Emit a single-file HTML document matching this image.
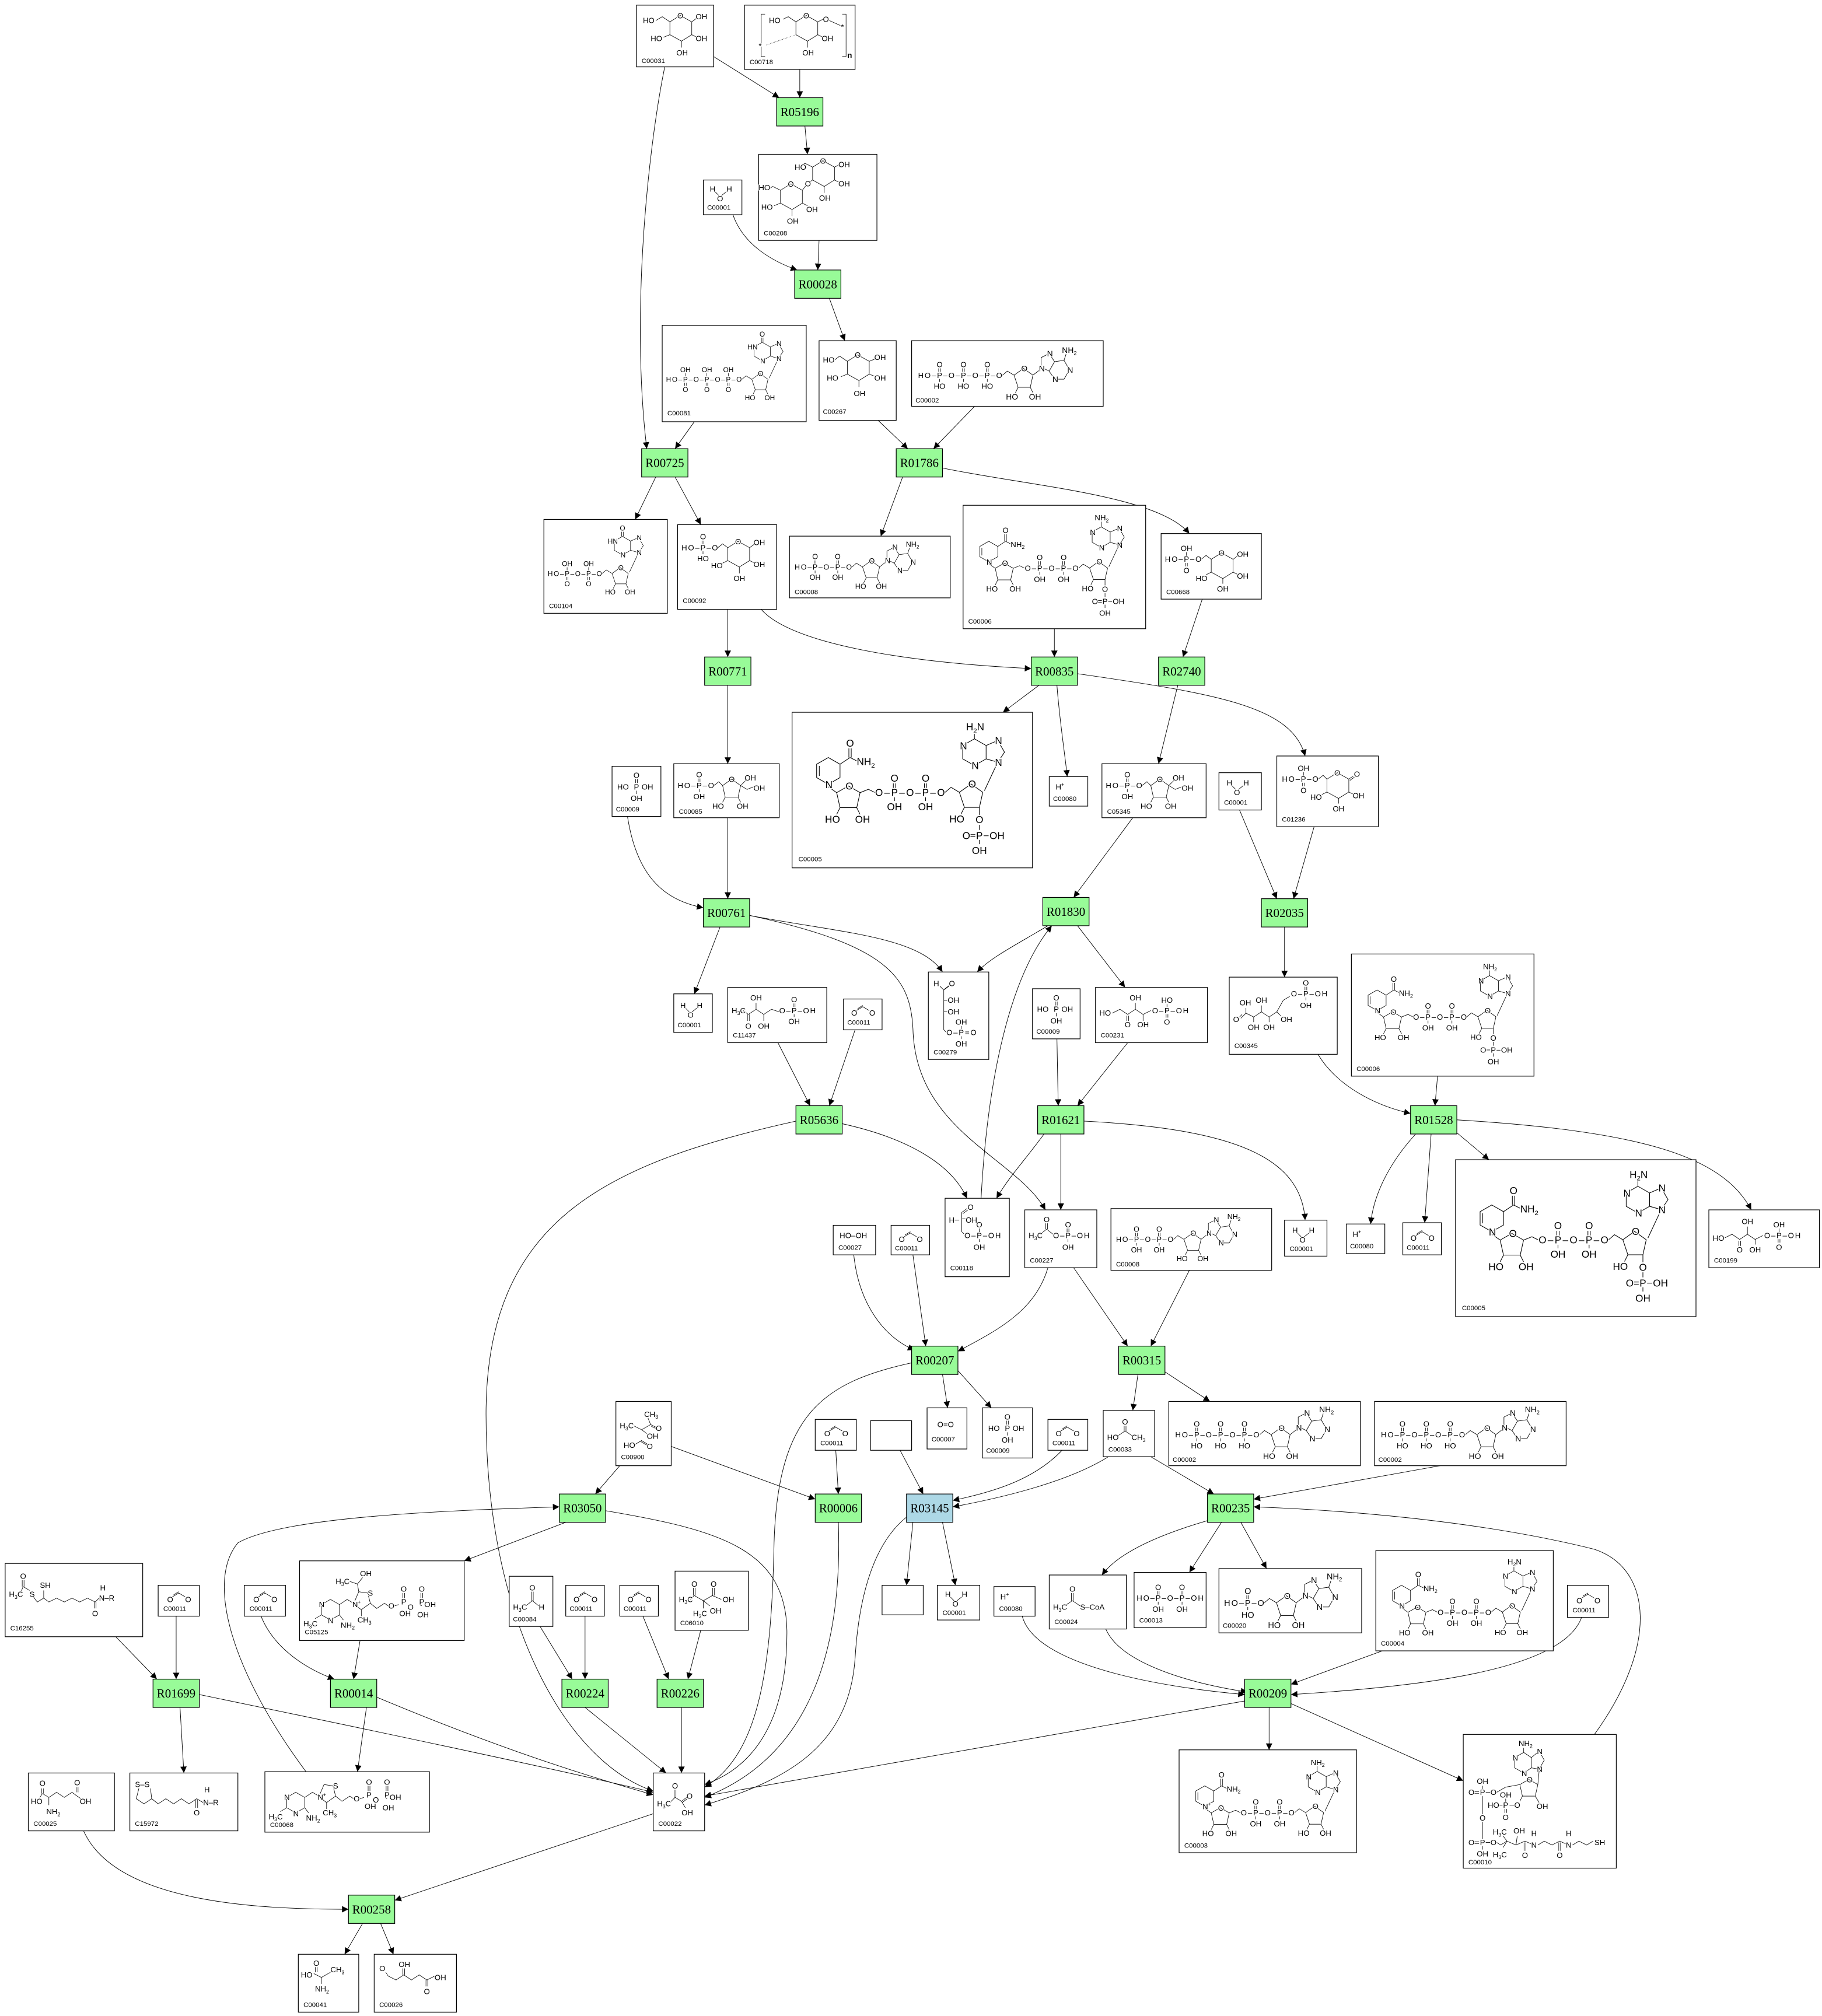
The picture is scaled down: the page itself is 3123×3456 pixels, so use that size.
<!DOCTYPE html>
<html><head><meta charset="utf-8"><title>Pathway</title>
<style>
html,body{margin:0;padding:0;background:#fff}
svg{display:block}
.bx{fill:#fff;stroke:#000;stroke-width:.55}
.rx{fill:#98fb98;stroke:#000;stroke-width:.55}
.rb{fill:#add8e6;stroke:#000;stroke-width:.55}
.e{fill:none;stroke:#000;stroke-width:.42}
.m{fill:none;stroke:#000;stroke-width:.38}
text{font-family:"Liberation Sans",sans-serif;font-size:6px;fill:#000;paint-order:stroke;stroke:#fff;stroke-width:1.1px;stroke-linejoin:round}
.id{font-size:5.2px}
.r{font-family:"Liberation Serif",serif;font-size:9.5px;text-anchor:middle;stroke:none}
.c{text-anchor:middle}
.ch{letter-spacing:.8px}
.s{font-size:4px}
</style></head><body>
<svg width="3123" height="3456" viewBox="0 0 1417 1568" preserveAspectRatio="none" xmlns="http://www.w3.org/2000/svg">
<defs><marker id="ah" viewBox="0 0 10 10" refX="10" refY="5" markerWidth="6" markerHeight="5" markerUnits="userSpaceOnUse" orient="auto"><path d="M0,0 L10,5 L0,10 z" fill="#000"/></marker></defs>
<rect width="1417" height="1568" fill="#fff"/>

<!-- EDGES -->
<g>
<path class="e" marker-end="url(#ah)" d="M555,44 L606,76"/>
<path class="e" marker-end="url(#ah)" d="M622,54 L622,76"/>
<path class="e" marker-end="url(#ah)" d="M517,52 C505,110 490,240 503,349"/>
<path class="e" marker-end="url(#ah)" d="M626,98 L628,120"/>
<path class="e" marker-end="url(#ah)" d="M637,187 L636,210"/>
<path class="e" marker-end="url(#ah)" d="M570,167 C578,190 600,203 620,210"/>
<path class="e" marker-end="url(#ah)" d="M645,232 L657,265"/>
<path class="e" marker-end="url(#ah)" d="M540,328 L525,349"/>
<path class="e" marker-end="url(#ah)" d="M683,327 L706,349"/>
<path class="e" marker-end="url(#ah)" d="M758,316 L726,349"/>
<path class="e" marker-end="url(#ah)" d="M510,371 L494,404"/>
<path class="e" marker-end="url(#ah)" d="M525,371 L545,408"/>
<path class="e" marker-end="url(#ah)" d="M702,371 L685,417"/>
<path class="e" marker-end="url(#ah)" d="M733,364 C800,378 900,385 925,415"/>
<path class="e" marker-end="url(#ah)" d="M566,474 L566,511"/>
<path class="e" marker-end="url(#ah)" d="M592,474 C615,500 700,515 802,520"/>
<path class="e" marker-end="url(#ah)" d="M820,489 L820,511"/>
<path class="e" marker-end="url(#ah)" d="M935,466 L920,511"/>
<path class="e" marker-end="url(#ah)" d="M808,533 L780,554"/>
<path class="e" marker-end="url(#ah)" d="M822,533 C824,560 828,585 830,604"/>
<path class="e" marker-end="url(#ah)" d="M838,524 C950,540 1005,550 1015,588"/>
<path class="e" marker-end="url(#ah)" d="M916,533 L901,594"/>
<path class="e" marker-end="url(#ah)" d="M566,533 L566,594"/>
<path class="e" marker-end="url(#ah)" d="M488,635 C495,680 515,700 547,706"/>
<path class="e" marker-end="url(#ah)" d="M566,636 L566,699"/>
<path class="e" marker-end="url(#ah)" d="M881,636 L835,698"/>
<path class="e" marker-end="url(#ah)" d="M964,630 L993,699"/>
<path class="e" marker-end="url(#ah)" d="M1022,643 L1006,699"/>
<path class="e" marker-end="url(#ah)" d="M560,721 L540,773"/>
<path class="e" marker-end="url(#ah)" d="M583,712 C650,725 715,728 733,756"/>
<path class="e" marker-end="url(#ah)" d="M583,712 C690,735 708,760 710,800 C712,880 790,900 813,941"/>
<path class="e" marker-end="url(#ah)" d="M815,720 C790,735 770,745 760,756"/>
<path class="e" marker-end="url(#ah)" d="M838,720 L875,768"/>
<path class="e" marker-end="url(#ah)" d="M999,721 L999,760"/>
<path class="e" marker-end="url(#ah)" d="M605,811 L630,860"/>
<path class="e" marker-end="url(#ah)" d="M665,801 L645,860"/>
<path class="e" marker-end="url(#ah)" d="M822,808 L823,860"/>
<path class="e" marker-end="url(#ah)" d="M877,811 L838,860"/>
<path class="e" marker-end="url(#ah)" d="M1025,820 C1040,845 1070,860 1097,866"/>
<path class="e" marker-end="url(#ah)" d="M1118,837 L1116,860"/>
<path class="e" marker-end="url(#ah)" d="M655,874 C705,885 740,905 752,932"/>
<path class="e" marker-end="url(#ah)" d="M619,872 C470,905 378,950 378,1100 C378,1260 440,1370 508,1393"/>
<path class="e" marker-end="url(#ah)" d="M763,932 C768,840 785,760 818,720"/>
<path class="e" marker-end="url(#ah)" d="M812,882 C795,905 785,915 775,932"/>
<path class="e" marker-end="url(#ah)" d="M825,882 L825,941"/>
<path class="e" marker-end="url(#ah)" d="M843,872 C960,878 1012,900 1015,949"/>
<path class="e" marker-end="url(#ah)" d="M1101,882 C1080,905 1068,930 1066,952"/>
<path class="e" marker-end="url(#ah)" d="M1113,882 L1108,951"/>
<path class="e" marker-end="url(#ah)" d="M1133,881 L1158,902"/>
<path class="e" marker-end="url(#ah)" d="M1133,871 C1280,880 1340,900 1362,941"/>
<path class="e" marker-end="url(#ah)" d="M664,976 C668,1015 688,1040 711,1050"/>
<path class="e" marker-end="url(#ah)" d="M710,976 L720,1047"/>
<path class="e" marker-end="url(#ah)" d="M815,986 C805,1020 775,1035 745,1051"/>
<path class="e" marker-end="url(#ah)" d="M835,986 L877,1047"/>
<path class="e" marker-end="url(#ah)" d="M925,988 L895,1047"/>
<path class="e" marker-end="url(#ah)" d="M709,1060 C640,1075 605,1100 602,1200 C600,1300 590,1365 548,1390"/>
<path class="e" marker-end="url(#ah)" d="M733,1069 L737,1095"/>
<path class="e" marker-end="url(#ah)" d="M745,1066 L771,1095"/>
<path class="e" marker-end="url(#ah)" d="M885,1069 L881,1097"/>
<path class="e" marker-end="url(#ah)" d="M906,1067 L941,1090"/>
<path class="e" marker-end="url(#ah)" d="M482,1140 L463,1162"/>
<path class="e" marker-end="url(#ah)" d="M522,1125 L634,1166"/>
<path class="e" marker-end="url(#ah)" d="M650,1128 L652,1162"/>
<path class="e" marker-end="url(#ah)" d="M700,1128 L718,1162"/>
<path class="e" marker-end="url(#ah)" d="M826,1128 C805,1150 775,1160 741,1167"/>
<path class="e" marker-end="url(#ah)" d="M862,1133 C835,1150 790,1163 741,1172"/>
<path class="e" marker-end="url(#ah)" d="M895,1133 L944,1162"/>
<path class="e" marker-end="url(#ah)" d="M1120,1140 L975,1166"/>
<path class="e" marker-end="url(#ah)" d="M440,1184 L361,1214"/>
<path class="e" marker-end="url(#ah)" d="M471,1175 C560,1190 612,1205 612,1270 C612,1340 585,1375 548,1388"/>
<path class="e" marker-end="url(#ah)" d="M652,1184 C656,1300 620,1370 548,1398"/>
<path class="e" marker-end="url(#ah)" d="M705,1180 C680,1200 668,1240 665,1290 C660,1360 610,1385 548,1404"/>
<path class="e" marker-end="url(#ah)" d="M710,1184 L705,1233"/>
<path class="e" marker-end="url(#ah)" d="M733,1184 L743,1233"/>
<path class="e" marker-end="url(#ah)" d="M945,1181 C895,1195 868,1210 857,1225"/>
<path class="e" marker-end="url(#ah)" d="M950,1184 L925,1223"/>
<path class="e" marker-end="url(#ah)" d="M965,1184 L985,1220"/>
<path class="e" marker-end="url(#ah)" d="M1240,1349 C1290,1280 1285,1220 1240,1205 C1160,1185 1060,1175 975,1172"/>
<path class="e" marker-end="url(#ah)" d="M90,1273 L122,1306"/>
<path class="e" marker-end="url(#ah)" d="M137,1257 L137,1306"/>
<path class="e" marker-end="url(#ah)" d="M203,1257 C213,1282 238,1298 260,1306"/>
<path class="e" marker-end="url(#ah)" d="M280,1276 L275,1306"/>
<path class="e" marker-end="url(#ah)" d="M420,1265 L445,1306"/>
<path class="e" marker-end="url(#ah)" d="M455,1257 L455,1306"/>
<path class="e" marker-end="url(#ah)" d="M500,1257 L520,1306"/>
<path class="e" marker-end="url(#ah)" d="M545,1268 L535,1306"/>
<path class="e" marker-end="url(#ah)" d="M795,1257 C805,1295 900,1312 968,1318"/>
<path class="e" marker-end="url(#ah)" d="M860,1267 C872,1295 930,1310 970,1316"/>
<path class="e" marker-end="url(#ah)" d="M1075,1284 L1004,1310"/>
<path class="e" marker-end="url(#ah)" d="M1230,1258 C1215,1300 1100,1312 1004,1318"/>
<path class="e" marker-end="url(#ah)" d="M140,1328 L143,1379"/>
<path class="e" marker-end="url(#ah)" d="M155,1318 C310,1350 450,1380 508,1394"/>
<path class="e" marker-end="url(#ah)" d="M285,1328 L278,1378"/>
<path class="e" marker-end="url(#ah)" d="M293,1320 C400,1365 470,1385 508,1396"/>
<path class="e" marker-end="url(#ah)" d="M238,1378 C180,1300 160,1230 185,1200 C220,1180 340,1175 435,1172"/>
<path class="e" marker-end="url(#ah)" d="M455,1328 L518,1379"/>
<path class="e" marker-end="url(#ah)" d="M530,1328 L530,1379"/>
<path class="e" marker-end="url(#ah)" d="M968,1323 L548,1397"/>
<path class="e" marker-end="url(#ah)" d="M987,1328 L987,1361"/>
<path class="e" marker-end="url(#ah)" d="M1004,1325 L1138,1385"/>
<path class="e" marker-end="url(#ah)" d="M510,1410 L307,1478"/>
<path class="e" marker-end="url(#ah)" d="M65,1424 C90,1480 200,1485 271,1485"/>
<path class="e" marker-end="url(#ah)" d="M282,1496 L268,1520"/>
<path class="e" marker-end="url(#ah)" d="M296,1496 L306,1520"/>
</g>

<!-- REACTIONS -->
<g>
<rect class="rx" x="604" y="76" width="36" height="22"/><text class="r" x="622" y="90.3">R05196</text>
<rect class="rx" x="618" y="210" width="36" height="22"/><text class="r" x="636" y="224.3">R00028</text>
<rect class="rx" x="499" y="349" width="36" height="22"/><text class="r" x="517" y="363.3">R00725</text>
<rect class="rx" x="697" y="349" width="36" height="22"/><text class="r" x="715" y="363.3">R01786</text>
<rect class="rx" x="548" y="511" width="36" height="22"/><text class="r" x="566" y="525.3">R00771</text>
<rect class="rx" x="802" y="511" width="36" height="22"/><text class="r" x="820" y="525.3">R00835</text>
<rect class="rx" x="901" y="511" width="36" height="22"/><text class="r" x="919" y="525.3">R02740</text>
<rect class="rx" x="547" y="699" width="36" height="22"/><text class="r" x="565" y="713.3">R00761</text>
<rect class="rx" x="811" y="698" width="36" height="22"/><text class="r" x="829" y="712.3">R01830</text>
<rect class="rx" x="981" y="699" width="36" height="22"/><text class="r" x="999" y="713.3">R02035</text>
<rect class="rx" x="619" y="860" width="36" height="22"/><text class="r" x="637" y="874.3">R05636</text>
<rect class="rx" x="807" y="860" width="36" height="22"/><text class="r" x="825" y="874.3">R01621</text>
<rect class="rx" x="1097" y="860" width="36" height="22"/><text class="r" x="1115" y="874.3">R01528</text>
<rect class="rx" x="709" y="1047" width="36" height="22"/><text class="r" x="727" y="1061.3">R00207</text>
<rect class="rx" x="870" y="1047" width="36" height="22"/><text class="r" x="888" y="1061.3">R00315</text>
<rect class="rx" x="435" y="1162" width="36" height="22"/><text class="r" x="453" y="1176.3">R03050</text>
<rect class="rx" x="634" y="1162" width="36" height="22"/><text class="r" x="652" y="1176.3">R00006</text>
<rect class="rb" x="705" y="1162" width="36" height="22"/><text class="r" x="723" y="1176.3">R03145</text>
<rect class="rx" x="939" y="1162" width="36" height="22"/><text class="r" x="957" y="1176.3">R00235</text>
<rect class="rx" x="119" y="1306" width="36" height="22"/><text class="r" x="137" y="1320.3">R01699</text>
<rect class="rx" x="257" y="1306" width="36" height="22"/><text class="r" x="275" y="1320.3">R00014</text>
<rect class="rx" x="437" y="1306" width="36" height="22"/><text class="r" x="455" y="1320.3">R00224</text>
<rect class="rx" x="511" y="1306" width="36" height="22"/><text class="r" x="529" y="1320.3">R00226</text>
<rect class="rx" x="968" y="1306" width="36" height="22"/><text class="r" x="986" y="1320.3">R00209</text>
<rect class="rx" x="271" y="1474" width="36" height="22"/><text class="r" x="289" y="1488.3">R00258</text>
</g>

<!-- COMPOUNDS -->
<!-- C00031 -->
<g transform="translate(495,4)"><rect class="bx" width="60" height="48"/>
<path class="m" d="M26,13 L34,8 L43,13 L43,23 L35,28 L26,23 Z M26,13 L20,9 L15,12 M43,13 L47,10 M43,23 L47,25 M26,23 L21,25 M35,28 V33"/>
<text x="31.7" y="10.2">O</text><text x="5" y="14">HO</text><text x="46" y="11">OH</text><text x="46" y="28">OH</text><text x="11" y="28">HO</text><text x="31" y="39">OH</text>
<text class="id" x="4" y="45">C00031</text></g>

<!-- C00718 -->
<g transform="translate(579,4)"><rect class="bx" width="86" height="50"/>
<path class="m" d="M16,7 H13 V40 H16 M76,7 H79 V40 H76 M40,13 L48,8 L57,13 L57,23 L49,28 L40,23 Z M40,13 L34,9 L30,11 M57,13 L61,11 M66,12 L75,16 M57,23 L61,25 M49,28 V33"/>
<path class="m" stroke-dasharray="0.4 0.7" stroke-width="1.4" d="M17,31 L40,23"/>
<text x="45.7" y="10.2">O</text><text x="19" y="14">HO</text><text x="61" y="13">O</text><text x="75" y="19">*</text><text x="11" y="34">*</text><text x="60" y="28">OH</text><text x="45" y="39">OH</text><text x="80" y="41" font-weight="bold">n</text>
<text class="id" x="4" y="46">C00718</text></g>

<!-- C00208 -->
<g transform="translate(590,120)"><rect class="bx" width="92" height="67"/>
<path class="m" d="M42,10 L50,5 L59,10 L59,20 L51,25 L42,20 Z M42,10 L36,7 L33,9 M59,10 L63,8 M59,20 L63,22 M51,25 V30 M42,20 L39,22 M17,28 L25,23 L34,28 L34,38 L26,43 L17,38 Z M34,28 L37,24 M17,28 L11,25 L8,27 M17,38 L12,40 M26,43 V48 M34,38 L38,40"/>
<text x="47.7" y="7.2">O</text><text x="28" y="12">HO</text><text x="62" y="10">OH</text><text x="62" y="25">OH</text><text x="47" y="36">OH</text><text x="36" y="25">O</text>
<text x="22.7" y="25.2">O</text><text x="0" y="28">HO</text><text x="2" y="43">HO</text><text x="22" y="54">OH</text><text x="37" y="45">OH</text>
<text class="id" x="4" y="63">C00208</text></g>

<!-- C00001 waters -->
<g transform="translate(547,140)"><rect class="bx" width="30" height="27"/><path class="m" d="M9,9 L13,13 L18,9"/><text x="5" y="9">H</text><text x="10.7" y="16.5">O</text><text x="18" y="9">H</text><text class="id" x="3" y="23">C00001</text></g>
<g transform="translate(948,601)"><rect class="bx" width="33" height="29"/><path class="m" d="M10,10 L14,14 L19,10"/><text x="6" y="10">H</text><text x="11.7" y="17.5">O</text><text x="19" y="10">H</text><text class="id" x="4" y="25">C00001</text></g>
<g transform="translate(524,773)"><rect class="bx" width="30" height="30"/><path class="m" d="M9,11 L13,15 L18,11"/><text x="5" y="11">H</text><text x="10.7" y="18.5">O</text><text x="18" y="11">H</text><text class="id" x="3" y="26">C00001</text></g>
<g transform="translate(999,949)"><rect class="bx" width="33" height="28"/><path class="m" d="M10,10 L14,14 L19,10"/><text x="6" y="10">H</text><text x="11.7" y="17.5">O</text><text x="19" y="10">H</text><text class="id" x="4" y="24">C00001</text></g>
<g transform="translate(729,1233)"><rect class="bx" width="33" height="27"/><path class="m" d="M10,9 L14,13 L19,9"/><text x="6" y="9">H</text><text x="11.7" y="16.5">O</text><text x="19" y="9">H</text><text class="id" x="4" y="23">C00001</text></g>

<!-- C00011 CO2 -->
<g transform="translate(656,777)"><rect class="bx" width="30" height="24"/><path class="m" d="M10,9 L15,6 L20,9 M11,7.5 L15,5"/><text x="6" y="13">O</text><text x="20" y="13">O</text><text class="id" x="3" y="20">C00011</text></g>
<g transform="translate(693,953)"><rect class="bx" width="30" height="23"/><path class="m" d="M10,9 L15,6 L20,9 M11,7.5 L15,5"/><text x="6" y="13">O</text><text x="20" y="13">O</text><text class="id" x="3" y="19.5">C00011</text></g>
<g transform="translate(634,1104)"><rect class="bx" width="32" height="24"/><path class="m" d="M11,9 L16,6 L21,9 M12,7.5 L16,5"/><text x="7" y="13">O</text><text x="21" y="13">O</text><text class="id" x="4" y="20">C00011</text></g>
<g transform="translate(815,1104)"><rect class="bx" width="31" height="24"/><path class="m" d="M10,9 L15,6 L20,9 M11,7.5 L15,5"/><text x="6" y="13">O</text><text x="20" y="13">O</text><text class="id" x="3.5" y="20">C00011</text></g>
<g transform="translate(123,1233)"><rect class="bx" width="32" height="24"/><path class="m" d="M11,9 L16,6 L21,9 M12,7.5 L16,5"/><text x="7" y="13">O</text><text x="21" y="13">O</text><text class="id" x="4" y="20">C00011</text></g>
<g transform="translate(190,1233)"><rect class="bx" width="32" height="24"/><path class="m" d="M11,9 L16,6 L21,9 M12,7.5 L16,5"/><text x="7" y="13">O</text><text x="21" y="13">O</text><text class="id" x="4" y="20">C00011</text></g>
<g transform="translate(440,1233)"><rect class="bx" width="30" height="24"/><path class="m" d="M10,9 L15,6 L20,9 M11,7.5 L15,5"/><text x="6" y="13">O</text><text x="20" y="13">O</text><text class="id" x="3" y="20">C00011</text></g>
<g transform="translate(482,1233)"><rect class="bx" width="30" height="24"/><path class="m" d="M10,9 L15,6 L20,9 M11,7.5 L15,5"/><text x="6" y="13">O</text><text x="20" y="13">O</text><text class="id" x="3" y="20">C00011</text></g>
<g transform="translate(1091,951)"><rect class="bx" width="30" height="25"/><path class="m" d="M10,10 L15,7 L20,10 M11,8.5 L15,6"/><text x="6" y="14">O</text><text x="20" y="14">O</text><text class="id" x="3" y="21">C00011</text></g>
<g transform="translate(1219,1233)"><rect class="bx" width="32" height="25"/><path class="m" d="M11,10 L16,7 L21,10 M12,8.5 L16,6"/><text x="7" y="14">O</text><text x="21" y="14">O</text><text class="id" x="4" y="21">C00011</text></g>

<!-- C00080 H+ -->
<g transform="translate(816,604)"><rect class="bx" width="30" height="23"/><text x="5" y="10">H<tspan class="s" dy="-2.5">+</tspan></text><text class="id" x="3" y="19">C00080</text></g>
<g transform="translate(1047,952)"><rect class="bx" width="30" height="23"/><text x="5" y="10">H<tspan class="s" dy="-2.5">+</tspan></text><text class="id" x="3" y="19">C00080</text></g>
<g transform="translate(773,1234)"><rect class="bx" width="32" height="23"/><text x="5" y="10">H<tspan class="s" dy="-2.5">+</tspan></text><text class="id" x="4" y="19">C00080</text></g>

<!-- C00009 phosphate -->
<g transform="translate(476,596)"><rect class="bx" width="38" height="39"/><path class="m" d="M18.3,10 V13 M19.7,10 V13 M19,19 V21.5"/><text class="c" x="19" y="9">O</text><text class="c" x="19" y="18">P</text><text x="4" y="18">HO</text><text x="23" y="18">OH</text><text class="c" x="19" y="27">OH</text><text class="id" x="3" y="35">C00009</text></g>
<g transform="translate(803,769)"><rect class="bx" width="37" height="39"/><path class="m" d="M17.8,10 V13 M19.2,10 V13 M18.5,19 V21.5"/><text class="c" x="18.5" y="9">O</text><text class="c" x="18.5" y="18">P</text><text x="3.5" y="18">HO</text><text x="22.5" y="18">OH</text><text class="c" x="18.5" y="27">OH</text><text class="id" x="3" y="35">C00009</text></g>
<g transform="translate(764,1095)"><rect class="bx" width="39" height="39"/><path class="m" d="M18.8,10 V13 M20.2,10 V13 M19.5,19 V21.5"/><text class="c" x="19.5" y="9">O</text><text class="c" x="19.5" y="18">P</text><text x="4.5" y="18">HO</text><text x="23.5" y="18">OH</text><text class="c" x="19.5" y="27">OH</text><text class="id" x="3" y="35">C00009</text></g>

<!-- C00007 -->
<g transform="translate(721,1095)"><rect class="bx" width="31" height="32"/><text x="8" y="15">O=O</text><text class="id" x="3.5" y="26">C00007</text></g>
<!-- C00027 -->
<g transform="translate(648,953)"><rect class="bx" width="33" height="23"/><text x="5" y="10">HO–OH</text><text class="id" x="4" y="19">C00027</text></g>
<!-- empty boxes -->
<rect class="bx" x="677" y="1105" width="32" height="23"/>
<rect class="bx" x="686" y="1233" width="32" height="23"/>

<!-- C00081 ITP -->
<g transform="translate(515,253)"><rect class="bx" width="112" height="75"/>
<g transform="translate(3,44) scale(0.9)">
<text class="ch" x="0" y="0">HO–P–O–P–O–P–O</text>
<path class="m" d="M16.74,-4.8 V-7.5 M35.3,-4.8 V-7.5 M53.84,-4.8 V-7.5 M16.04,0.8 V3.4 M17.44,0.8 V3.4 M34.6,0.8 V3.4 M36,0.8 V3.4 M53.14,0.8 V3.4 M54.54,0.8 V3.4"/>
<text class="c" x="16.74" y="-8.5">OH</text><text class="c" x="35.3" y="-8.5">OH</text><text class="c" x="53.84" y="-8.5">OH</text>
<text class="c" x="16.74" y="8.8">O</text><text class="c" x="35.3" y="8.8">O</text><text class="c" x="53.84" y="8.8">O</text>
<g transform="translate(63.1,-2.2)"><path class="m" d="M2.5,0 L6,-3 L11,0 M11,0 L18,-5 L25,0 L23,9 L14,9 Z M14,9 L12,13 M23,9 L25,13 M26,-1 L33,-16 M20,-32 L13,-28 L13,-20 L20,-16 L27,-20 L27,-28 Z M27,-28 L34,-31 L38,-24 L34,-18 L27,-20 M19.3,-32 V-36 M20.7,-32 V-36"/><text x="16.3" y="-2.8">O</text><text x="7.3" y="-25.8">HN</text><text x="18.3" y="-13.8">N</text><text x="32.3" y="-28.8">N</text><text x="32.3" y="-15.8">N</text><text x="17.7" y="-37">O</text><text x="5" y="18">HO</text><text x="22" y="18">OH</text></g>
</g>
<text class="id" x="4" y="70">C00081</text></g>

<!-- C00267 -->
<g transform="translate(637,265)"><rect class="bx" width="60" height="62"/>
<path class="m" d="M22,16 L30,11 L39,16 L39,26 L31,31 L22,26 Z M22,16 L16,12 L12,15 M39,16 L44,14 M39,26 L44,28 M22,26 L17,28 M31,31 V36"/>
<text x="27.7" y="13.2">O</text><text x="3" y="17">HO</text><text x="43" y="15">OH</text><text x="43" y="31">OH</text><text x="6" y="31">HO</text><text x="27" y="43">OH</text>
<text class="id" x="3" y="57">C00267</text></g>

<!-- ATP C00002 top -->
<g transform="translate(709,265)"><rect class="bx" width="149" height="51"/>
<g transform="translate(5,29)">
<text class="ch" x="0" y="0">HO–P–O–P–O–P–O</text>
<path class="m" d="M16.04,-4.8 V-7.5 M17.44,-4.8 V-7.5 M34.6,-4.8 V-7.5 M36,-4.8 V-7.5 M53.14,-4.8 V-7.5 M54.54,-4.8 V-7.5 M16.74,0.8 V3 M35.3,0.8 V3 M53.84,0.8 V3"/>
<text class="c" x="16.74" y="-8.5">O</text><text class="c" x="35.3" y="-8.5">O</text><text class="c" x="53.84" y="-8.5">O</text>
<text class="c" x="16.74" y="8.5">HO</text><text class="c" x="35.3" y="8.5">HO</text><text class="c" x="53.84" y="8.5">HO</text>
<g transform="translate(63.1,-2.2) scale(1.05)"><path class="m" d="M2.5,0 L6,-3 L11,0 M11,0 L18,-5 L25,0 L23,9 L14,9 Z M14,9 L12,13 M23,9 L25,13 M25,0 L29.5,-3.5 M31,-6 L31,-13 L37,-16 L41,-10 L37,-3 Z M41,-10 L48,-11 L52,-4 L48,3 L41,3 L37,-3 M48,-11 L49.5,-15.5"/><text x="16.3" y="-2.8">O</text><text x="29.4" y="-2.9">N</text><text x="35.4" y="-13.9">N</text><text x="39.4" y="5.1">N</text><text x="50.4" y="-1.9">N</text><text x="46.5" y="-16.5">NH<tspan class="s" dy="1.5">2</tspan></text><text x="5" y="18">HO</text><text x="22" y="18">OH</text></g>
</g>
<text class="id" x="3" y="48">C00002</text></g>

<!-- C00104 IDP -->
<g transform="translate(423,404)"><rect class="bx" width="96" height="73"/>
<g transform="translate(3,44) scale(0.9)">
<text class="ch" x="0" y="0">HO–P–O–P–O</text>
<path class="m" d="M16.74,-4.8 V-7.5 M35.3,-4.8 V-7.5 M16.04,0.8 V3.4 M17.44,0.8 V3.4 M34.6,0.8 V3.4 M36,0.8 V3.4"/>
<text class="c" x="16.74" y="-8.5">OH</text><text class="c" x="35.3" y="-8.5">OH</text><text class="c" x="16.74" y="8.8">O</text><text class="c" x="35.3" y="8.8">O</text>
<g transform="translate(44.56,-2.2)"><path class="m" d="M2.5,0 L6,-3 L11,0 M11,0 L18,-5 L25,0 L23,9 L14,9 Z M14,9 L12,13 M23,9 L25,13 M26,-1 L33,-16 M20,-32 L13,-28 L13,-20 L20,-16 L27,-20 L27,-28 Z M27,-28 L34,-31 L38,-24 L34,-18 L27,-20 M19.3,-32 V-36 M20.7,-32 V-36"/><text x="16.3" y="-2.8">O</text><text x="7.3" y="-25.8">HN</text><text x="18.3" y="-13.8">N</text><text x="32.3" y="-28.8">N</text><text x="32.3" y="-15.8">N</text><text x="17.7" y="-37">O</text><text x="5" y="18">HO</text><text x="22" y="18">OH</text></g>
</g>
<text class="id" x="4" y="69">C00104</text></g>

<!-- C00092 -->
<g transform="translate(527,408)"><rect class="bx" width="77" height="66"/>
<text class="ch" x="3" y="20">HO–P–O</text>
<path class="m" d="M19,15.2 V12.5 M20.4,15.2 V12.5 M19.74,20.8 V23 M31.5,17.8 L35,15 L39,18 M39,18 L47,13 L56,18 L56,28 L48,33 L39,28 Z M56,18 L60,15 M56,28 L60,30 M39,28 L35,30 M48,33 V38"/>
<text class="c" x="19.74" y="11.5">O</text><text class="c" x="19.74" y="28.5">HO</text><text x="44.7" y="15.2">O</text><text x="59" y="16">OH</text><text x="59" y="33">OH</text><text x="26" y="34">HO</text><text class="c" x="48" y="44">OH</text>
<text class="id" x="4" y="61">C00092</text></g>

<!-- C00008 ADP (upper) -->
<g transform="translate(614,417)"><rect class="bx" width="125" height="48"/>
<g transform="translate(4,26) scale(0.95)">
<text class="ch" x="0" y="0">HO–P–O–P–O</text>
<path class="m" d="M16.04,-4.8 V-7.5 M17.44,-4.8 V-7.5 M34.6,-4.8 V-7.5 M36,-4.8 V-7.5 M16.74,0.8 V3 M35.3,0.8 V3"/>
<text class="c" x="16.74" y="-8.5">O</text><text class="c" x="35.3" y="-8.5">O</text><text class="c" x="16.74" y="8.5">OH</text><text class="c" x="35.3" y="8.5">OH</text>
<g transform="translate(44.56,-2.2)"><path class="m" d="M2.5,0 L6,-3 L11,0 M11,0 L18,-5 L25,0 L23,9 L14,9 Z M14,9 L12,13 M23,9 L25,13 M25,0 L29.5,-3.5 M31,-6 L31,-13 L37,-16 L41,-10 L37,-3 Z M41,-10 L48,-11 L52,-4 L48,3 L41,3 L37,-3 M48,-11 L49.5,-15.5"/><text x="16.3" y="-2.8">O</text><text x="29.4" y="-2.9">N</text><text x="35.4" y="-13.9">N</text><text x="39.4" y="5.1">N</text><text x="50.4" y="-1.9">N</text><text x="46.5" y="-16.5">NH<tspan class="s" dy="1.5">2</tspan></text><text x="5" y="18">HO</text><text x="22" y="18">OH</text></g>
</g>
<text class="id" x="4" y="45">C00008</text></g>

<!-- C00006 NADP (upper) -->
<g transform="translate(749,393)"><rect class="bx" width="142" height="96"/>
<g transform="translate(6,4)">
<path class="m" d="M14,24 L21,28 L21,36 L14,40 L7,36 L7,28 Z M8.6,29 V35 M21,28 L27,24 M26.3,24 V18.5 M27.7,24 V18.5 M27,24 L31,26 M14,41.5 L19,45 M19,45 L26,41 L33,45 L31,54 L21,54 Z M21,54 L19,58 M31,54 L33,58 M33,45 L38,43 L42,45 M52.9,42.2 V39.5 M54.3,42.2 V39.5 M53.6,47.8 V50 M71.5,42.2 V39.5 M72.9,42.2 V39.5 M72.2,47.8 V50"/>
<text class="c" x="27" y="17.5">O</text><text x="31" y="28.5">NH<tspan class="s" dy="1.5">2</tspan></text><text x="12.2" y="42.2">N</text><text x="24.3" y="43.2">O</text><text x="12" y="63">HO</text><text x="30" y="63">OH</text>
<text class="ch" x="42" y="47">O–P–O–P–O</text>
<text class="c" x="53.6" y="38.5">O</text><text class="c" x="53.6" y="55.5">OH</text><text class="c" x="72.2" y="38.5">O</text><text class="c" x="72.2" y="55.5">OH</text>
<g transform="translate(81.4,44.8)"><path class="m" d="M2.5,0 L6,-3 L11,0 M11,0 L18,-5 L25,0 L23,9 L14,9 Z M14,9 L12,13 M26,-1 L33,-16 M20,-32 L13,-28 L13,-20 L20,-16 L27,-20 L27,-28 Z M27,-28 L34,-31 L38,-24 L34,-18 L27,-20 M20,-32 V-36 M23,9 V13.5 M23,19.5 V22.5 M17.5,25.3 H20.5 M17.5,26.6 H20.5 M25.5,26 H28.5 M23,28.5 V31"/><text x="16.3" y="-2.8">O</text><text x="11.3" y="-25.8">N</text><text x="18.3" y="-13.8">N</text><text x="32.3" y="-28.8">N</text><text x="32.3" y="-15.8">N</text><text x="15" y="-37">NH<tspan class="s" dy="1.5">2</tspan></text><text x="5" y="18">HO</text><text class="c" x="23" y="18.5">O</text><text class="c" x="23" y="28">P</text><text x="12.8" y="28">O</text><text x="29" y="28">OH</text><text class="c" x="23" y="37">OH</text></g>
</g>
<text class="id" x="4" y="92">C00006</text></g>

<!-- C00668 -->
<g transform="translate(903,415)"><rect class="bx" width="78" height="51"/>
<text class="ch" x="3" y="22">HO–P–O</text>
<path class="m" d="M19.74,17.2 V14.5 M19,22.8 V25.5 M20.4,22.8 V25.5 M31.5,19.8 L35,17 L39,20 M39,20 L47,15 L56,20 L56,30 L48,35 L39,30 Z M56,20 L60,17 M56,30 L60,32 M39,30 L35,32 M48,35 V39"/>
<text class="c" x="19.74" y="13.5">OH</text><text class="c" x="19.74" y="30.8">O</text><text x="44.7" y="17.2">O</text><text x="59" y="18">OH</text><text x="59" y="35">OH</text><text x="27" y="37">HO</text><text class="c" x="48" y="45">OH</text>
<text class="id" x="4" y="47">C00668</text></g>

<!-- C00005 NADPH (upper) -->
<g transform="translate(616,554)"><rect class="bx" width="187" height="121"/>
<g transform="translate(10,4) scale(1.3)">
<path class="m" d="M14,24 L21,28 L21,36 L14,40 L7,36 L7,28 Z M8.6,29 V35 M21,28 L27,24 M26.3,24 V18.5 M27.7,24 V18.5 M27,24 L31,26 M14,41.5 L19,45 M19,45 L26,41 L33,45 L31,54 L21,54 Z M21,54 L19,58 M31,54 L33,58 M33,45 L38,43 L42,45 M52.9,42.2 V39.5 M54.3,42.2 V39.5 M53.6,47.8 V50 M71.5,42.2 V39.5 M72.9,42.2 V39.5 M72.2,47.8 V50"/>
<text class="c" x="27" y="17.5">O</text><text x="31" y="28.5">NH<tspan class="s" dy="1.5">2</tspan></text><text x="12.2" y="42.2">N</text><text x="24.3" y="43.2">O</text><text x="12" y="63">HO</text><text x="30" y="63">OH</text>
<text class="ch" x="42" y="47">O–P–O–P–O</text>
<text class="c" x="53.6" y="38.5">O</text><text class="c" x="53.6" y="55.5">OH</text><text class="c" x="72.2" y="38.5">O</text><text class="c" x="72.2" y="55.5">OH</text>
<g transform="translate(81.4,44.8)"><path class="m" d="M2.5,0 L6,-3 L11,0 M11,0 L18,-5 L25,0 L23,9 L14,9 Z M14,9 L12,13 M26,-1 L33,-16 M20,-32 L13,-28 L13,-20 L20,-16 L27,-20 L27,-28 Z M27,-28 L34,-31 L38,-24 L34,-18 L27,-20 M20,-32 V-36 M23,9 V13.5 M23,19.5 V22.5 M17.5,25.3 H20.5 M17.5,26.6 H20.5 M25.5,26 H28.5 M23,28.5 V31"/><text x="16.3" y="-2.8">O</text><text x="11.3" y="-25.8">N</text><text x="18.3" y="-13.8">N</text><text x="32.3" y="-28.8">N</text><text x="32.3" y="-15.8">N</text><text x="15" y="-37">H<tspan class="s" dy="1.5">2</tspan><tspan dy="-1.5">N</tspan></text><text x="5" y="18">HO</text><text class="c" x="23" y="18.5">O</text><text class="c" x="23" y="28">P</text><text x="12.8" y="28">O</text><text x="29" y="28">OH</text><text class="c" x="23" y="37">OH</text></g>
</g>
<text class="id" x="5" y="116">C00005</text></g>

<!-- C05345 -->
<g transform="translate(857,594)"><rect class="bx" width="81" height="42"/>
<text class="ch" x="3" y="19">HO–P–O</text>
<path class="m" d="M19,14.2 V11.5 M20.4,14.2 V11.5 M19.74,19.8 V22 M31.5,16.8 L35,14 L38,17 M38,17 L45,12 L52,17 L50,26 L40,26 Z M52,17 L56,13 M52,17 L57,20 L62,18 M40,26 L38,30 M50,26 L52,30"/>
<text class="c" x="19.74" y="10.5">O</text><text class="c" x="19.74" y="27.5">OH</text><text x="42.7" y="14.2">O</text><text x="55" y="13">OH</text><text x="62" y="21">OH</text><text x="30" y="35">HO</text><text x="49" y="35">OH</text>
<text class="id" x="4" y="39">C05345</text></g>

<!-- C01236 -->
<g transform="translate(993,588)"><rect class="bx" width="79" height="55"/>
<text class="ch" x="4" y="20">HO–P–O</text>
<path class="m" d="M20.74,15.2 V12.5 M20.04,20.8 V23.5 M21.44,20.8 V23.5 M32.5,17.8 L36,15 L39,18 M39,18 L47,13 L56,18 L56,28 L48,33 L39,28 Z M56,18 L59.5,15.5 M56.8,19 L60.3,16.5 M56,28 L60,30 M39,28 L35,30 M48,33 V37"/>
<text class="c" x="20.74" y="11.5">OH</text><text class="c" x="20.74" y="28.8">O</text><text x="44.7" y="15.2">O</text><text x="60" y="16">O</text><text x="59" y="33">OH</text><text x="26" y="34">HO</text><text class="c" x="48" y="43">OH</text>
<text class="id" x="4" y="51">C01236</text></g>

<!-- C00085 -->
<g transform="translate(524,594)"><rect class="bx" width="82" height="42"/>
<text class="ch" x="3" y="19">HO–P–O</text>
<path class="m" d="M19,14.2 V11.5 M20.4,14.2 V11.5 M19.74,19.8 V22 M31.5,16.8 L35,14 L38,17 M38,17 L45,12 L52,17 L50,26 L40,26 Z M52,17 L56,13 M52,17 L57,20 L62,18 M40,26 L38,30 M50,26 L52,30"/>
<text class="c" x="19.74" y="10.5">O</text><text class="c" x="19.74" y="27.5">OH</text><text x="42.7" y="14.2">O</text><text x="55" y="13">OH</text><text x="62" y="21">OH</text><text x="30" y="35">HO</text><text x="49" y="35">OH</text>
<text class="id" x="4" y="39">C00085</text></g>

<!-- C11437 -->
<g transform="translate(566,768)"><rect class="bx" width="77" height="43"/>
<path class="m" d="M12,18 L16,21 L22,17 L28,21 L34,17 L40,19 M15.3,21 V26 M16.7,21 V26 M22,17 V12 M28,21 V26 M50.9,15.2 V12.5 M52.3,15.2 V12.5 M51.6,20.8 V23"/>
<text x="3" y="20">H<tspan class="s" dy="1.5">3</tspan><tspan dy="-1.5">C</tspan></text><text class="c" x="16" y="32">O</text><text class="c" x="22" y="10">OH</text><text class="c" x="28" y="32">OH</text>
<text class="ch" x="40" y="20">O–P–OH</text><text class="c" x="51.6" y="11.5">O</text><text class="c" x="51.6" y="28.5">OH</text>
<text class="id" x="4" y="39">C11437</text></g>

<!-- C00279 -->
<g transform="translate(722,756)"><rect class="bx" width="47" height="68"/>
<path class="m" d="M9,11 L12,14 L16,11 M12.7,13.2 L16.7,10.2 M12,14 V45 L14,47 M25.6,44.3 V42 M25.6,50 V52 M12,22 H15 M12,31 H15"/>
<text x="4" y="11">H</text><text x="16" y="11">O</text><text x="15" y="24">OH</text><text x="15" y="33">OH</text>
<text class="ch" x="14" y="49">O–P=O</text><text class="c" x="25.6" y="41">OH</text><text class="c" x="25.6" y="58">OH</text>
<text class="id" x="4" y="64">C00279</text></g>

<!-- C00231 -->
<g transform="translate(852,768)"><rect class="bx" width="87" height="43"/>
<path class="m" d="M13,20 L19,17 L25,21 L31,17 L37,21 L43,18 M24.3,22 V26 M25.7,22 V26 M31,17 V12 M37,21 V26 M55.6,15.2 V13 M54.9,20.8 V23.5 M56.3,20.8 V23.5"/>
<text x="3" y="22">HO</text><text class="c" x="25" y="31">O</text><text class="c" x="31" y="10">OH</text><text class="c" x="37" y="31">OH</text>
<text class="ch" x="44" y="20">O–P–OH</text><text class="c" x="55.6" y="12">HO</text><text class="c" x="55.6" y="29">O</text>
<text class="id" x="4" y="39">C00231</text></g>

<!-- C00345 -->
<g transform="translate(956,760)"><rect class="bx" width="84" height="60"/>
<path class="m" d="M9,32 L13,28 L19,31 L25,27 L31,31 L37,27 L42,18 L47,15 M13,28 V24 M8,31 L10,29 M19,31 V35 M25,27 V22 M31,31 V35 M37,27 L40,30 M58.9,10.2 V7.5 M60.3,10.2 V7.5 M59.6,15.8 V18"/>
<text x="8" y="22">OH</text><text x="3" y="35">O</text><text class="c" x="19" y="41">OH</text><text class="c" x="25" y="20">OH</text><text class="c" x="31" y="41">OH</text><text x="40" y="35">OH</text>
<text class="ch" x="48" y="15">O–P–OH</text><text class="c" x="59.6" y="6.5">O</text><text class="c" x="59.6" y="24">OH</text>
<text class="id" x="4" y="55">C00345</text></g>

<!-- C00006 NADP (lower) -->
<g transform="translate(1051,742)"><rect class="bx" width="142" height="95"/>
<g transform="translate(6,4)">
<path class="m" d="M14,24 L21,28 L21,36 L14,40 L7,36 L7,28 Z M8.6,29 V35 M21,28 L27,24 M26.3,24 V18.5 M27.7,24 V18.5 M27,24 L31,26 M14,41.5 L19,45 M19,45 L26,41 L33,45 L31,54 L21,54 Z M21,54 L19,58 M31,54 L33,58 M33,45 L38,43 L42,45 M52.9,42.2 V39.5 M54.3,42.2 V39.5 M53.6,47.8 V50 M71.5,42.2 V39.5 M72.9,42.2 V39.5 M72.2,47.8 V50"/>
<text class="c" x="27" y="17.5">O</text><text x="31" y="28.5">NH<tspan class="s" dy="1.5">2</tspan></text><text x="12.2" y="42.2">N</text><text x="24.3" y="43.2">O</text><text x="12" y="63">HO</text><text x="30" y="63">OH</text>
<text class="ch" x="42" y="47">O–P–O–P–O</text>
<text class="c" x="53.6" y="38.5">O</text><text class="c" x="53.6" y="55.5">OH</text><text class="c" x="72.2" y="38.5">O</text><text class="c" x="72.2" y="55.5">OH</text>
<g transform="translate(81.4,44.8)"><path class="m" d="M2.5,0 L6,-3 L11,0 M11,0 L18,-5 L25,0 L23,9 L14,9 Z M14,9 L12,13 M26,-1 L33,-16 M20,-32 L13,-28 L13,-20 L20,-16 L27,-20 L27,-28 Z M27,-28 L34,-31 L38,-24 L34,-18 L27,-20 M20,-32 V-36 M23,9 V13.5 M23,19.5 V22.5 M17.5,25.3 H20.5 M17.5,26.6 H20.5 M25.5,26 H28.5 M23,28.5 V31"/><text x="16.3" y="-2.8">O</text><text x="11.3" y="-25.8">N</text><text x="18.3" y="-13.8">N</text><text x="32.3" y="-28.8">N</text><text x="32.3" y="-15.8">N</text><text x="15" y="-37">NH<tspan class="s" dy="1.5">2</tspan></text><text x="5" y="18">HO</text><text class="c" x="23" y="18.5">O</text><text class="c" x="23" y="28">P</text><text x="12.8" y="28">O</text><text x="29" y="28">OH</text><text class="c" x="23" y="37">OH</text></g>
</g>
<text class="id" x="4" y="91">C00006</text></g>

<!-- C00118 -->
<g transform="translate(735,932)"><rect class="bx" width="50" height="61"/>
<path class="m" d="M13,16 L13,11 L17,8 M13.8,12 L17.8,9 M7,17 H11 M13,16 H16 M13,16 V26 L16,29 M26.6,26.2 V23.5 M26.6,31.8 V34"/>
<text x="17.5" y="9">O</text><text x="3" y="19">H</text><text x="16" y="19">OH</text>
<text class="ch" x="15" y="31">O–P–OH</text><text class="c" x="26.6" y="22.5">O</text><text class="c" x="26.6" y="40">OH</text>
<text class="id" x="4" y="56">C00118</text></g>

<!-- C00227 -->
<g transform="translate(797,941)"><rect class="bx" width="56" height="45"/>
<path class="m" d="M12,19 L17,15 L22,19 M16.3,15 V10.5 M17.7,15 V10.5 M32.9,17.2 V14.5 M34.3,17.2 V14.5 M33.6,22.8 V25"/>
<text class="c" x="17" y="9.5">O</text><text x="3" y="22">H<tspan class="s" dy="1.5">3</tspan><tspan dy="-1.5">C</tspan></text>
<text class="ch" x="22" y="22">O–P–OH</text><text class="c" x="33.6" y="13.5">O</text><text class="c" x="33.6" y="31">OH</text>
<text class="id" x="4" y="41">C00227</text></g>

<!-- C00008 ADP (lower) -->
<g transform="translate(864,940)"><rect class="bx" width="125" height="48"/>
<g transform="translate(4,26) scale(0.95)">
<text class="ch" x="0" y="0">HO–P–O–P–O</text>
<path class="m" d="M16.04,-4.8 V-7.5 M17.44,-4.8 V-7.5 M34.6,-4.8 V-7.5 M36,-4.8 V-7.5 M16.74,0.8 V3 M35.3,0.8 V3"/>
<text class="c" x="16.74" y="-8.5">O</text><text class="c" x="35.3" y="-8.5">O</text><text class="c" x="16.74" y="8.5">OH</text><text class="c" x="35.3" y="8.5">OH</text>
<g transform="translate(44.56,-2.2)"><path class="m" d="M2.5,0 L6,-3 L11,0 M11,0 L18,-5 L25,0 L23,9 L14,9 Z M14,9 L12,13 M23,9 L25,13 M25,0 L29.5,-3.5 M31,-6 L31,-13 L37,-16 L41,-10 L37,-3 Z M41,-10 L48,-11 L52,-4 L48,3 L41,3 L37,-3 M48,-11 L49.5,-15.5"/><text x="16.3" y="-2.8">O</text><text x="29.4" y="-2.9">N</text><text x="35.4" y="-13.9">N</text><text x="39.4" y="5.1">N</text><text x="50.4" y="-1.9">N</text><text x="46.5" y="-16.5">NH<tspan class="s" dy="1.5">2</tspan></text><text x="5" y="18">HO</text><text x="22" y="18">OH</text></g>
</g>
<text class="id" x="4" y="45">C00008</text></g>

<!-- C00005 NADPH (lower) -->
<g transform="translate(1132,902)"><rect class="bx" width="187" height="122"/>
<g transform="translate(10,4) scale(1.3)">
<path class="m" d="M14,24 L21,28 L21,36 L14,40 L7,36 L7,28 Z M8.6,29 V35 M21,28 L27,24 M26.3,24 V18.5 M27.7,24 V18.5 M27,24 L31,26 M14,41.5 L19,45 M19,45 L26,41 L33,45 L31,54 L21,54 Z M21,54 L19,58 M31,54 L33,58 M33,45 L38,43 L42,45 M52.9,42.2 V39.5 M54.3,42.2 V39.5 M53.6,47.8 V50 M71.5,42.2 V39.5 M72.9,42.2 V39.5 M72.2,47.8 V50"/>
<text class="c" x="27" y="17.5">O</text><text x="31" y="28.5">NH<tspan class="s" dy="1.5">2</tspan></text><text x="12.2" y="42.2">N</text><text x="24.3" y="43.2">O</text><text x="12" y="63">HO</text><text x="30" y="63">OH</text>
<text class="ch" x="42" y="47">O–P–O–P–O</text>
<text class="c" x="53.6" y="38.5">O</text><text class="c" x="53.6" y="55.5">OH</text><text class="c" x="72.2" y="38.5">O</text><text class="c" x="72.2" y="55.5">OH</text>
<g transform="translate(81.4,44.8)"><path class="m" d="M2.5,0 L6,-3 L11,0 M11,0 L18,-5 L25,0 L23,9 L14,9 Z M14,9 L12,13 M26,-1 L33,-16 M20,-32 L13,-28 L13,-20 L20,-16 L27,-20 L27,-28 Z M27,-28 L34,-31 L38,-24 L34,-18 L27,-20 M20,-32 V-36 M23,9 V13.5 M23,19.5 V22.5 M17.5,25.3 H20.5 M17.5,26.6 H20.5 M25.5,26 H28.5 M23,28.5 V31"/><text x="16.3" y="-2.8">O</text><text x="11.3" y="-25.8">N</text><text x="18.3" y="-13.8">N</text><text x="32.3" y="-28.8">N</text><text x="32.3" y="-15.8">N</text><text x="15" y="-37">H<tspan class="s" dy="1.5">2</tspan><tspan dy="-1.5">N</tspan></text><text x="5" y="18">HO</text><text class="c" x="23" y="18.5">O</text><text class="c" x="23" y="28">P</text><text x="12.8" y="28">O</text><text x="29" y="28">OH</text><text class="c" x="23" y="37">OH</text></g>
</g>
<text class="id" x="5" y="117">C00005</text></g>

<!-- C00199 -->
<g transform="translate(1329,941)"><rect class="bx" width="86" height="45"/>
<path class="m" d="M12,22 L18,19 L24,23 L30,19 L36,23 L42,20 M23.3,24 V28 M24.7,24 V28 M30,19 V13 M36,23 V27 M54.6,17.2 V14.5 M53.9,22.8 V25.5 M55.3,22.8 V25.5"/>
<text x="3" y="24">HO</text><text class="c" x="24" y="33">O</text><text class="c" x="30" y="11">OH</text><text class="c" x="36" y="33">OH</text>
<text class="ch" x="43" y="22">O–P–OH</text><text class="c" x="54.6" y="13.5">OH</text><text class="c" x="54.6" y="31">O</text>
<text class="id" x="4" y="41">C00199</text></g>

<!-- C00900 -->
<g transform="translate(479,1090)"><rect class="bx" width="43" height="50"/>
<path class="m" d="M14,19 L20,22 L27,18 L25,13 M27,18 L31,20 M27.5,19.3 L31.5,21.3 M20,22 L24,25 M14,34 L19,31 L24,34 M19.5,30.2 L24.5,33.2"/>
<text x="22" y="12">CH<tspan class="s" dy="1.5">3</tspan></text><text x="3" y="21">H<tspan class="s" dy="1.5">3</tspan><tspan dy="-1.5">C</tspan></text><text x="31" y="23">O</text><text x="24" y="29">OH</text><text x="6" y="36">HO</text><text x="24" y="37">O</text>
<text class="id" x="4" y="45">C00900</text></g>

<!-- C00033 -->
<g transform="translate(858,1097)"><rect class="bx" width="40" height="36"/>
<path class="m" d="M11,20 L17,16 L23,20 M16.3,16 V12 M17.7,16 V12"/>
<text class="c" x="17" y="11">O</text><text x="3" y="23">HO</text><text x="22" y="23">CH<tspan class="s" dy="1.5">3</tspan></text>
<text class="id" x="4" y="32">C00033</text></g>

<!-- ATP C00002 (middle) -->
<g transform="translate(909,1090)"><rect class="bx" width="149" height="50"/>
<g transform="translate(5,28)">
<text class="ch" x="0" y="0">HO–P–O–P–O–P–O</text>
<path class="m" d="M16.04,-4.8 V-7.5 M17.44,-4.8 V-7.5 M34.6,-4.8 V-7.5 M36,-4.8 V-7.5 M53.14,-4.8 V-7.5 M54.54,-4.8 V-7.5 M16.74,0.8 V3 M35.3,0.8 V3 M53.84,0.8 V3"/>
<text class="c" x="16.74" y="-8.5">O</text><text class="c" x="35.3" y="-8.5">O</text><text class="c" x="53.84" y="-8.5">O</text>
<text class="c" x="16.74" y="8.5">HO</text><text class="c" x="35.3" y="8.5">HO</text><text class="c" x="53.84" y="8.5">HO</text>
<g transform="translate(63.1,-2.2) scale(1.05)"><path class="m" d="M2.5,0 L6,-3 L11,0 M11,0 L18,-5 L25,0 L23,9 L14,9 Z M14,9 L12,13 M23,9 L25,13 M25,0 L29.5,-3.5 M31,-6 L31,-13 L37,-16 L41,-10 L37,-3 Z M41,-10 L48,-11 L52,-4 L48,3 L41,3 L37,-3 M48,-11 L49.5,-15.5"/><text x="16.3" y="-2.8">O</text><text x="29.4" y="-2.9">N</text><text x="35.4" y="-13.9">N</text><text x="39.4" y="5.1">N</text><text x="50.4" y="-1.9">N</text><text x="46.5" y="-16.5">NH<tspan class="s" dy="1.5">2</tspan></text><text x="5" y="18">HO</text><text x="22" y="18">OH</text></g>
</g>
<text class="id" x="3" y="47">C00002</text></g>

<!-- ATP C00002 (right) -->
<g transform="translate(1069,1090)"><rect class="bx" width="149" height="50"/>
<g transform="translate(5,28)">
<text class="ch" x="0" y="0">HO–P–O–P–O–P–O</text>
<path class="m" d="M16.04,-4.8 V-7.5 M17.44,-4.8 V-7.5 M34.6,-4.8 V-7.5 M36,-4.8 V-7.5 M53.14,-4.8 V-7.5 M54.54,-4.8 V-7.5 M16.74,0.8 V3 M35.3,0.8 V3 M53.84,0.8 V3"/>
<text class="c" x="16.74" y="-8.5">O</text><text class="c" x="35.3" y="-8.5">O</text><text class="c" x="53.84" y="-8.5">O</text>
<text class="c" x="16.74" y="8.5">HO</text><text class="c" x="35.3" y="8.5">HO</text><text class="c" x="53.84" y="8.5">HO</text>
<g transform="translate(63.1,-2.2) scale(1.05)"><path class="m" d="M2.5,0 L6,-3 L11,0 M11,0 L18,-5 L25,0 L23,9 L14,9 Z M14,9 L12,13 M23,9 L25,13 M25,0 L29.5,-3.5 M31,-6 L31,-13 L37,-16 L41,-10 L37,-3 Z M41,-10 L48,-11 L52,-4 L48,3 L41,3 L37,-3 M48,-11 L49.5,-15.5"/><text x="16.3" y="-2.8">O</text><text x="29.4" y="-2.9">N</text><text x="35.4" y="-13.9">N</text><text x="39.4" y="5.1">N</text><text x="50.4" y="-1.9">N</text><text x="46.5" y="-16.5">NH<tspan class="s" dy="1.5">2</tspan></text><text x="5" y="18">HO</text><text x="22" y="18">OH</text></g>
</g>
<text class="id" x="3" y="47">C00002</text></g>

<!-- C16255 -->
<g transform="translate(4,1216)"><rect class="bx" width="107" height="57"/>
<path class="m" d="M12,23 L14,18 M13.3,18 V13 M14.7,18 V13 M14,18 L19,21 M22,26 L25,30 L30,27 L34,30 L40,27 L46,30 L52,27 L58,30 L64,27 L70,30 M30,27 V21 M69.3,30 V35 M70.7,30 V35 M70,30 L73,27"/>
<text class="c" x="14" y="12">O</text><text x="3" y="26">H<tspan class="s" dy="1.5">3</tspan><tspan dy="-1.5">C</tspan></text><text x="19" y="26">S</text><text x="27" y="19">SH</text><text class="c" x="70" y="41">O</text><text class="c" x="76" y="21">H</text><text x="73" y="29">N–R</text>
<text class="id" x="4" y="52">C16255</text></g>

<!-- C05125 -->
<g transform="translate(233,1214)"><rect class="bx" width="128" height="62"/>
<path class="m" d="M24,30 L31,34 L31,42 L24,46 L17,42 L17,34 Z M31,34 L37,30 L42,33 M44,35 L48,38 L55,33 L53,25 L46,24 L43,31 M46,24 L45,18 L39,16 M45,18 L49,13 M48,38 L48,43 M55,33 L60,37 L66,33 L69,35 M74,35 L77,34 M85,34 L88,35 M93,34 L95,35 M80.3,29 V25 M81.7,29 V25 M94.3,29 V25 M95.7,29 V25 M17,42 L12,45 M31,42 L34,46"/>
<text x="15" y="36">N</text><text x="22" y="48.5">N</text><text x="3" y="51">H<tspan class="s" dy="1.5">3</tspan><tspan dy="-1.5">C</tspan></text><text x="32" y="52">NH<tspan class="s" dy="1.5">2</tspan></text>
<text x="41" y="36">N<tspan class="s" dy="-2.5">+</tspan></text><text x="53" y="27">S</text><text x="45" y="48">CH<tspan class="s" dy="1.5">3</tspan></text>
<text x="28" y="18">H<tspan class="s" dy="1.5">3</tspan><tspan dy="-1.5">C</tspan></text><text x="47" y="12">OH</text>
<text x="69" y="37">O</text><text class="c" x="81" y="34">P</text><text class="c" x="81" y="24">O</text><text x="84" y="38">O</text><text class="c" x="95" y="34">P</text><text class="c" x="95" y="24">O</text><text x="97" y="36">OH</text><text class="c" x="82" y="43">OH</text><text class="c" x="96" y="44">OH</text>
<text class="id" x="4" y="57">C05125</text></g>

<!-- C00084 -->
<g transform="translate(396,1226)"><rect class="bx" width="34" height="39"/>
<path class="m" d="M13,23 L18,19 L23,23 M17.3,19 V12 M18.7,19 V12"/>
<text class="c" x="18" y="11">O</text><text x="3" y="26">H<tspan class="s" dy="1.5">3</tspan><tspan dy="-1.5">C</tspan></text><text x="23" y="26">H</text>
<text class="id" x="3" y="35">C00084</text></g>

<!-- C06010 -->
<g transform="translate(525,1222)"><rect class="bx" width="57" height="46"/>
<path class="m" d="M12,22 L15,19 L22,23 L29,19 L36,22 M14.3,19 V13 M15.7,19 V13 M29.3,19 V13 M30.7,19 V13 M22,23 L22,29 M22,23 L27,27"/>
<text class="c" x="15" y="12">O</text><text class="c" x="30" y="12">O</text><text x="3" y="24">H<tspan class="s" dy="1.5">3</tspan><tspan dy="-1.5">C</tspan></text><text x="37" y="24">OH</text><text x="14" y="35">H<tspan class="s" dy="1.5">3</tspan><tspan dy="-1.5">C</tspan></text><text x="27" y="33">OH</text>
<text class="id" x="4" y="42">C06010</text></g>

<!-- C00024 -->
<g transform="translate(816,1225)"><rect class="bx" width="60" height="42"/>
<path class="m" d="M12,24 L18,20 L24,24 M17.3,20 V14 M18.7,20 V14"/>
<text class="c" x="18" y="13">O</text><text x="3" y="27">H<tspan class="s" dy="1.5">3</tspan><tspan dy="-1.5">C</tspan></text><text x="24" y="27">S–CoA</text>
<text class="id" x="4" y="38">C00024</text></g>

<!-- C00013 -->
<g transform="translate(882,1223)"><rect class="bx" width="56" height="43"/>
<text class="ch" x="2" y="22">HO–P–O–P–OH</text>
<path class="m" d="M18.04,17.2 V14.5 M19.44,17.2 V14.5 M36.6,17.2 V14.5 M38,17.2 V14.5 M18.74,22.8 V25 M37.3,22.8 V25"/>
<text class="c" x="18.74" y="13.5">O</text><text class="c" x="37.3" y="13.5">O</text><text class="c" x="18.74" y="30.5">OH</text><text class="c" x="37.3" y="30.5">OH</text>
<text class="id" x="4" y="39">C00013</text></g>

<!-- C00020 AMP -->
<g transform="translate(948,1220)"><rect class="bx" width="111" height="50"/>
<g transform="translate(4,29) scale(1.1)">
<text class="ch" x="0" y="0">HO–P–O</text>
<path class="m" d="M16.04,-4.8 V-7.5 M17.44,-4.8 V-7.5 M16.74,0.8 V3"/>
<text class="c" x="16.74" y="-8.5">O</text><text class="c" x="16.74" y="8.5">HO</text>
<g transform="translate(26.01,-2.2)"><path class="m" d="M2.5,0 L6,-3 L11,0 M11,0 L18,-5 L25,0 L23,9 L14,9 Z M14,9 L12,13 M23,9 L25,13 M25,0 L29.5,-3.5 M31,-6 L31,-13 L37,-16 L41,-10 L37,-3 Z M41,-10 L48,-11 L52,-4 L48,3 L41,3 L37,-3 M48,-11 L49.5,-15.5"/><text x="16.3" y="-2.8">O</text><text x="29.4" y="-2.9">N</text><text x="35.4" y="-13.9">N</text><text x="39.4" y="5.1">N</text><text x="50.4" y="-1.9">N</text><text x="46.5" y="-16.5">NH<tspan class="s" dy="1.5">2</tspan></text><text x="5" y="18">HO</text><text x="22" y="18">OH</text></g>
</g>
<text class="id" x="3" y="46">C00020</text></g>

<!-- C00004 NADH -->
<g transform="translate(1070,1206)"><rect class="bx" width="138" height="78"/>
<g transform="translate(6,3)">
<path class="m" d="M14,24 L21,28 L21,36 L14,40 L7,36 L7,28 Z M8.6,29 V35 M21,28 L27,24 M26.3,24 V18.5 M27.7,24 V18.5 M27,24 L31,26 M14,41.5 L19,45 M19,45 L26,41 L33,45 L31,54 L21,54 Z M21,54 L19,58 M31,54 L33,58 M33,45 L38,43 L42,45 M52.9,42.2 V39.5 M54.3,42.2 V39.5 M53.6,47.8 V50 M71.5,42.2 V39.5 M72.9,42.2 V39.5 M72.2,47.8 V50"/>
<text class="c" x="27" y="17.5">O</text><text x="31" y="28.5">NH<tspan class="s" dy="1.5">2</tspan></text><text x="12.2" y="42.2">N</text><text x="24.3" y="43.2">O</text><text x="12" y="63">HO</text><text x="30" y="63">OH</text>
<text class="ch" x="42" y="47">O–P–O–P–O</text>
<text class="c" x="53.6" y="38.5">O</text><text class="c" x="53.6" y="55.5">OH</text><text class="c" x="72.2" y="38.5">O</text><text class="c" x="72.2" y="55.5">OH</text>
<g transform="translate(81.4,44.8)"><path class="m" d="M2.5,0 L6,-3 L11,0 M11,0 L18,-5 L25,0 L23,9 L14,9 Z M14,9 L12,13 M23,9 L25,13 M26,-1 L33,-16 M20,-32 L13,-28 L13,-20 L20,-16 L27,-20 L27,-28 Z M27,-28 L34,-31 L38,-24 L34,-18 L27,-20 M20,-32 V-36"/><text x="16.3" y="-2.8">O</text><text x="11.3" y="-25.8">N</text><text x="18.3" y="-13.8">N</text><text x="32.3" y="-28.8">N</text><text x="32.3" y="-15.8">N</text><text x="15" y="-37">H<tspan class="s" dy="1.5">2</tspan><tspan dy="-1.5">N</tspan></text><text x="5" y="18">HO</text><text x="22" y="18">OH</text></g>
</g>
<text class="id" x="4" y="74">C00004</text></g>

<!-- C00025 -->
<g transform="translate(22,1379)"><rect class="bx" width="67" height="45"/>
<path class="m" d="M11,16 L16,19 L22,15 L28,19 L34,15 L38,18 M10.3,16 V12 M11.7,16 V12 M37.3,15 V11 M38.7,15 V11 M11,16 L9,19 M38,18 L41,20 M16,19 V25"/>
<text class="c" x="11" y="10">O</text><text class="c" x="38" y="9.5">O</text><text x="2" y="24">HO</text><text x="40" y="24">OH</text><text x="14" y="32">NH<tspan class="s" dy="1.5">2</tspan></text>
<text class="id" x="4" y="41">C00025</text></g>

<!-- C15972 -->
<g transform="translate(101,1379)"><rect class="bx" width="84" height="45"/>
<path class="m" d="M7,12 L5,20 L11,24 L17,20 L16,12 M17,20 L22,24 L28,20 L34,24 L40,20 L46,24 L52,20 L57,23 M51.3,21 V27 M52.7,21 V27"/>
<text x="4" y="11">S–S</text><text class="c" x="52" y="33">O</text><text class="c" x="60" y="15">H</text><text x="57" y="25">N–R</text>
<text class="id" x="4" y="41">C15972</text></g>

<!-- C00068 -->
<g transform="translate(206,1378)"><rect class="bx" width="128" height="47"/>
<g transform="translate(0,-14)">
<path class="m" d="M24,30 L31,34 L31,42 L24,46 L17,42 L17,34 Z M31,34 L37,30 L42,33 M44,35 L48,38 L55,33 L53,25 L46,24 L43,31 M48,38 L48,43 M55,33 L60,37 L66,33 L69,35 M74,35 L77,34 M85,34 L88,35 M93,34 L95,35 M80.3,29 V25 M81.7,29 V25 M94.3,29 V25 M95.7,29 V25 M17,42 L12,45 M31,42 L34,46"/>
<text x="15" y="36">N</text><text x="22" y="48.5">N</text><text x="3" y="51">H<tspan class="s" dy="1.5">3</tspan><tspan dy="-1.5">C</tspan></text><text x="32" y="52">NH<tspan class="s" dy="1.5">2</tspan></text>
<text x="41" y="36">N<tspan class="s" dy="-2.5">+</tspan></text><text x="53" y="27">S</text><text x="45" y="48">CH<tspan class="s" dy="1.5">3</tspan></text>
<text x="69" y="37">O</text><text class="c" x="81" y="34">P</text><text class="c" x="81" y="24">O</text><text x="84" y="38">O</text><text class="c" x="95" y="34">P</text><text class="c" x="95" y="24">O</text><text x="97" y="36">OH</text><text class="c" x="82" y="43">OH</text><text class="c" x="96" y="44">OH</text>
</g>
<text class="id" x="4" y="43">C00068</text></g>

<!-- C00022 pyruvate -->
<g transform="translate(508,1379)"><rect class="bx" width="40" height="45"/>
<path class="m" d="M13,23 L17,19 L22,22 M16.3,19 V13 M17.7,19 V13 M22,22 L26,19 M22.5,23 L26.5,20 M22,22 L25,27"/>
<text class="c" x="17" y="12">O</text><text x="3" y="26">H<tspan class="s" dy="1.5">3</tspan><tspan dy="-1.5">C</tspan></text><text x="26" y="20">O</text><text x="22" y="33">OH</text>
<text class="id" x="4" y="41">C00022</text></g>

<!-- C00003 NAD+ (bottom) -->
<g transform="translate(917,1361)"><rect class="bx" width="138" height="80"/>
<g transform="translate(6,4)">
<path class="m" d="M14,24 L21,28 L21,36 L14,40 L7,36 L7,28 Z M8.6,29 V35 M21,28 L27,24 M26.3,24 V18.5 M27.7,24 V18.5 M27,24 L31,26 M14,41.5 L19,45 M19,45 L26,41 L33,45 L31,54 L21,54 Z M21,54 L19,58 M31,54 L33,58 M33,45 L38,43 L42,45 M52.9,42.2 V39.5 M54.3,42.2 V39.5 M53.6,47.8 V50 M71.5,42.2 V39.5 M72.9,42.2 V39.5 M72.2,47.8 V50"/>
<text class="c" x="27" y="17.5">O</text><text x="31" y="28.5">NH<tspan class="s" dy="1.5">2</tspan></text><text x="12.2" y="42.2">N<tspan class="s" dy="-2.5">+</tspan></text><text x="24.3" y="43.2">O</text><text x="12" y="63">HO</text><text x="30" y="63">OH</text>
<text class="ch" x="42" y="47">O–P–O–P–O</text>
<text class="c" x="53.6" y="38.5">O</text><text class="c" x="53.6" y="55.5">OH</text><text class="c" x="72.2" y="38.5">O</text><text class="c" x="72.2" y="55.5">OH</text>
<g transform="translate(81.4,44.8)"><path class="m" d="M2.5,0 L6,-3 L11,0 M11,0 L18,-5 L25,0 L23,9 L14,9 Z M14,9 L12,13 M23,9 L25,13 M26,-1 L33,-16 M20,-32 L13,-28 L13,-20 L20,-16 L27,-20 L27,-28 Z M27,-28 L34,-31 L38,-24 L34,-18 L27,-20 M20,-32 V-36"/><text x="16.3" y="-2.8">O</text><text x="11.3" y="-25.8">N</text><text x="18.3" y="-13.8">N</text><text x="32.3" y="-28.8">N</text><text x="32.3" y="-15.8">N</text><text x="15" y="-37">NH<tspan class="s" dy="1.5">2</tspan></text><text x="5" y="18">HO</text><text x="22" y="18">OH</text></g>
</g>
<text class="id" x="4" y="76">C00003</text></g>

<!-- C00010 CoA -->
<g transform="translate(1138,1349)"><rect class="bx" width="119" height="104"/>
<path class="m" d="M47,14 L40,18 L40,26 L47,30 L53,26 L53,18 Z M53,18 L59,13 L63,20 L59,27 L53,26 M47,14 V10.5 M59,28.5 L58,39 M44,39 L51,35 L58,39 L56,48 L46,48 Z M56,48 L59,53 M46,48 L44,52 M36,55 H39.5 M26.5,55 H30.5 M33,52.5 V50 M32.3,58 V61 M33.7,58 V61 M8.8,44.5 H12.2 M8.8,45.8 H12.2 M17.5,45 H21 M26,45 L33,41 L44,39 M15,42.5 V40 M15,48 V62 M15,68 V81.5 M8.8,83.5 H12.2 M8.8,84.8 H12.2 M17.5,84 H21 M15,87 V89.5 M26,84 L29,86 L34,83 L31,79 M34,83 L31,88 M34,83 L41,86 L42,79 M41,86 L48,83 L52.5,85 M47.3,84 V90.5 M48.7,84 V90.5 M58,86 L63,83 L69,86 L75,83 L79.5,85 M74.3,84 V90.5 M75.7,84 V90.5 M85,86 L90,83 L96,86 L101,83"/>
<text x="43" y="9">NH<tspan class="s" dy="1.5">2</tspan></text><text x="38.3" y="20.2">N</text><text x="45.3" y="32.2">N</text><text x="57.3" y="15.2">N</text><text x="57.3" y="29.2">N</text><text x="49.3" y="37.2">O</text><text x="57" y="58">OH</text>
<text class="c" x="42" y="57">O</text><text class="c" x="33" y="57">P</text><text x="19" y="57">HO</text><text class="c" x="33" y="49">OH</text><text class="c" x="33" y="66.5">O</text>
<text x="4" y="47">O</text><text class="c" x="15" y="47">P</text><text class="c" x="23.5" y="47">O</text><text class="c" x="15" y="38.5">OH</text><text class="c" x="15" y="67">O</text>
<text x="4" y="86">O</text><text class="c" x="15" y="86">P</text><text class="c" x="23.5" y="86">O</text><text class="c" x="15" y="95">OH</text>
<text x="23" y="78">H<tspan class="s" dy="1.5">3</tspan><tspan dy="-1.5">C</tspan></text><text x="23" y="95.5">H<tspan class="s" dy="1.5">3</tspan><tspan dy="-1.5">C</tspan></text><text x="39" y="77">OH</text><text class="c" x="48" y="96">O</text><text class="c" x="55" y="79">H</text><text class="c" x="55" y="88">N</text><text class="c" x="75" y="96">O</text><text class="c" x="82" y="79">H</text><text class="c" x="82" y="88">N</text><text x="102" y="86">SH</text>
<text class="id" x="4" y="101">C00010</text></g>

<!-- C00041 -->
<g transform="translate(232,1520)"><rect class="bx" width="47" height="45"/>
<path class="m" d="M12,15 L18,18 L25,14 M13.3,14 V10 M14.7,14 V10 M18,18 V23"/>
<text class="c" x="14" y="9">O</text><text x="2" y="18">HO</text><text x="25" y="14">CH<tspan class="s" dy="1.5">3</tspan></text><text x="13" y="29">NH<tspan class="s" dy="1.5">2</tspan></text>
<text class="id" x="4" y="41">C00041</text></g>

<!-- C00026 -->
<g transform="translate(291,1520)"><rect class="bx" width="64" height="45"/>
<path class="m" d="M11,17 L17,20 L23,16 L29,20 L35,16 L41,20 L47,17 M22.3,16 V11 M23.7,16 V11 M40.3,20 V25 M41.7,20 V25 M11,17 L9,14"/>
<text x="4" y="13">O</text><text x="19" y="10">OH</text><text class="c" x="41" y="31">O</text><text x="47" y="20">OH</text>
<text class="id" x="4" y="41">C00026</text></g>

</svg>
</body></html>
